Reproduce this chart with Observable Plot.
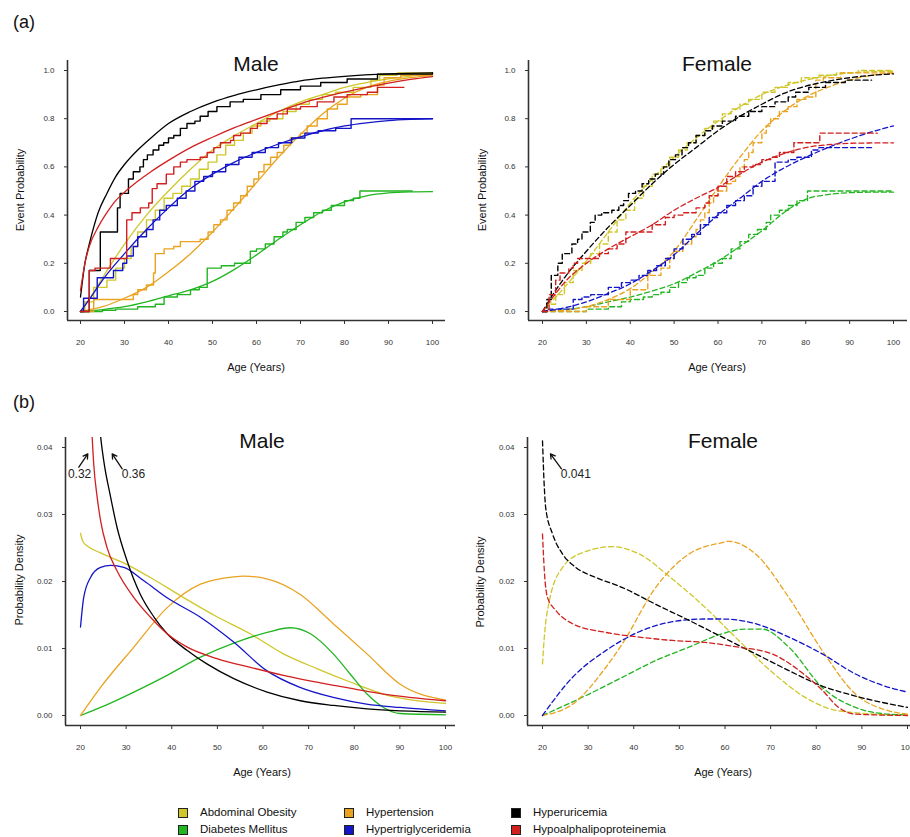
<!DOCTYPE html>
<html><head><meta charset="utf-8">
<script src="https://cdn.jsdelivr.net/npm/d3@7"></script>
<script src="https://cdn.jsdelivr.net/npm/@observablehq/plot@0.6"></script>
<style>
body{margin:0;background:#fff;}
#root{position:relative;width:910px;height:837px;overflow:hidden;font-family:"Liberation Sans",Arial,sans-serif;color:#111;}
.t{position:absolute;white-space:nowrap;transform:translate(-50%,-50%);line-height:1;}
.lg{position:absolute;font-size:11.5px;white-space:nowrap;line-height:1;transform:translateY(-50%);}
.sw{position:absolute;width:8px;height:8px;border:1.2px solid #222;transform:translate(-50%,-50%);}
</style></head><body><div id="root"></div>
<script>
// ---------- categories ----------
const seriesNames = ["Abdominal Obesity","Diabetes Mellitus","Hypertension","Hypertriglyceridemia","Hyperuricemia","Hypoalphalipoproteinemia"];
const seriesColors = ["#cfc72a","#22b522","#e9a321","#1414c8","#000000","#d21f1f"];
const ageTicks = [20,30,40,50,60,70,80,90,100];
const probTicks = [0,0.2,0.4,0.6,0.8,1.0];
const densTicks = [0,0.01,0.02,0.03,0.04];

// ---------- (a) Male fitted curves [age, probability] ----------
const maleFitAO  = [[20,0],[22,0.05],[25,0.14],[30,0.28],[35,0.4],[40,0.5],[45,0.59],[50,0.67],[55,0.73],[60,0.78],[65,0.83],[70,0.87],[75,0.9],[80,0.93],[85,0.95],[90,0.965],[95,0.977],[100,0.985]];
const maleFitDM  = [[20,0],[25,0.008],[30,0.02],[35,0.04],[40,0.065],[45,0.09],[50,0.125],[55,0.175],[60,0.235],[65,0.3],[70,0.36],[75,0.415],[80,0.455],[85,0.48],[90,0.492],[95,0.496],[100,0.497]];
const maleFitHT  = [[20,0],[25,0.02],[30,0.055],[35,0.1],[40,0.165],[45,0.24],[50,0.33],[55,0.43],[60,0.535],[65,0.64],[70,0.735],[75,0.82],[80,0.885],[85,0.93],[90,0.955],[95,0.97],[100,0.98]];
const maleFitHTG = [[20,0],[22,0.05],[25,0.13],[30,0.24],[35,0.34],[40,0.43],[45,0.51],[50,0.57],[55,0.62],[60,0.66],[65,0.695],[70,0.725],[75,0.75],[80,0.77],[85,0.783],[90,0.792],[95,0.797],[100,0.8]];
const maleFitHU  = [[20,0.06],[21,0.2],[22,0.28],[23,0.35],[24,0.41],[26,0.49],[28,0.56],[30,0.61],[33,0.67],[36,0.72],[40,0.78],[45,0.83],[50,0.868],[55,0.897],[60,0.92],[65,0.94],[70,0.957],[75,0.968],[80,0.976],[90,0.986],[100,0.99]];
const maleFitHA  = [[20,0.087],[21,0.2],[22,0.27],[24,0.35],[26,0.41],[28,0.46],[30,0.495],[33,0.54],[36,0.58],[40,0.627],[45,0.68],[50,0.723],[55,0.763],[60,0.797],[65,0.83],[70,0.862],[75,0.888],[80,0.91],[85,0.93],[90,0.948],[95,0.963],[100,0.975]];

// ---------- (a) Male observed (step) [age, probability] ----------
const maleObsAO  = [[20,0],[21,0.04],[23,0.1],[26,0.13],[28,0.18],[30,0.22],[31.5,0.27],[33,0.33],[35,0.38],[37,0.42],[39,0.47],[41,0.49],[43,0.52],[45,0.55],[47,0.59],[49,0.62],[51,0.65],[53,0.69],[55,0.71],[57,0.74],[59,0.77],[61,0.79],[63,0.8],[66,0.83],[69,0.86],[72,0.88],[75,0.9],[78,0.91],[82,0.93],[86,0.96],[88,0.98],[92,0.99],[100,0.99]];
const maleObsDM  = [[20,0],[25,0.005],[28,0.01],[33,0.02],[37,0.03],[39,0.06],[42,0.07],[45,0.09],[47,0.1],[48.8,0.18],[52,0.19],[55,0.2],[58.6,0.25],[60,0.26],[62,0.28],[64,0.31],[66,0.33],[67,0.34],[69,0.37],[71,0.39],[73,0.41],[75,0.42],[77,0.44],[80,0.46],[82,0.47],[83.5,0.5],[95.4,0.5]];
const maleObsHT  = [[20,0],[23,0.05],[32,0.07],[33,0.09],[35,0.11],[36.6,0.16],[37,0.24],[39,0.26],[41.2,0.27],[42.7,0.29],[47.2,0.3],[49,0.33],[50.3,0.36],[51.8,0.38],[53.3,0.42],[54.8,0.45],[56.4,0.48],[57.9,0.52],[59.4,0.55],[60.5,0.58],[61.7,0.61],[63.2,0.64],[64.7,0.66],[66.2,0.69],[67.7,0.72],[70,0.74],[71.5,0.77],[73.8,0.8],[76.1,0.84],[78.4,0.86],[80.6,0.89],[83.7,0.9],[87.5,0.94],[89,0.97],[92.8,0.98],[100,0.98]];
const maleObsHTG = [[20,0],[20.7,0.055],[23.8,0.14],[27.5,0.17],[29.6,0.2],[30.5,0.23],[32,0.27],[33,0.31],[35,0.34],[36.5,0.38],[38,0.42],[39.5,0.44],[42,0.47],[44,0.5],[46,0.54],[48,0.56],[50,0.58],[53,0.61],[56,0.64],[59,0.66],[62,0.68],[65,0.7],[68,0.72],[71,0.74],[74,0.75],[78,0.76],[81.5,0.8],[100,0.8]];
const maleObsHU  = [[20,0],[22,0.17],[24.5,0.33],[28.4,0.43],[29,0.49],[30.9,0.55],[32,0.58],[33.5,0.6],[34.3,0.63],[35.2,0.65],[36.5,0.67],[37.8,0.69],[38.9,0.7],[40,0.72],[41.2,0.73],[42.7,0.76],[44.2,0.78],[46,0.79],[47.2,0.81],[49,0.83],[51,0.85],[54,0.87],[57,0.88],[61,0.9],[65.5,0.92],[70,0.935],[74.6,0.95],[80.6,0.965],[87.5,0.985],[100,0.99]];
const maleObsHA  = [[20,0],[22,0.17],[23.3,0.18],[26.8,0.22],[30.5,0.38],[31.7,0.41],[33.6,0.43],[35.5,0.45],[36.3,0.51],[37.4,0.53],[39.5,0.57],[41.2,0.6],[42.7,0.62],[44.2,0.63],[47.2,0.64],[48.8,0.66],[50.3,0.68],[51.8,0.7],[54.1,0.71],[54.8,0.73],[56.4,0.74],[58.6,0.76],[60.2,0.78],[62.4,0.8],[64.7,0.82],[67,0.84],[70,0.85],[73.8,0.87],[77.6,0.89],[80.6,0.9],[85.2,0.91],[87.5,0.93],[93.5,0.93]];

// ---------- (a) Female fitted curves ----------
const femFitAO  = [[20,0],[22,0.04],[25,0.1],[30,0.21],[35,0.33],[40,0.45],[45,0.55],[50,0.64],[55,0.72],[60,0.79],[65,0.85],[70,0.9],[75,0.935],[80,0.96],[85,0.978],[90,0.99],[95,0.995],[100,0.997]];
const femFitDM  = [[20,0],[25,0.007],[30,0.02],[35,0.04],[40,0.06],[45,0.085],[50,0.115],[55,0.16],[60,0.21],[65,0.27],[70,0.335],[75,0.41],[80,0.465],[85,0.485],[90,0.493],[95,0.495],[100,0.495]];
const femFitHT  = [[20,0],[25,0.005],[30,0.02],[35,0.05],[40,0.095],[45,0.165],[50,0.25],[55,0.38],[60,0.515],[65,0.64],[70,0.75],[75,0.83],[80,0.89],[85,0.93],[90,0.96],[95,0.98],[100,0.99]];
const femFitHTG = [[20,0],[25,0.015],[30,0.04],[35,0.075],[40,0.115],[45,0.17],[50,0.235],[55,0.32],[60,0.4],[65,0.47],[70,0.54],[75,0.595],[80,0.64],[85,0.68],[90,0.715],[95,0.745],[100,0.77]];
const femFitHU  = [[20,0],[22,0.06],[25,0.14],[30,0.25],[35,0.35],[40,0.44],[45,0.53],[50,0.61],[55,0.68],[60,0.75],[65,0.81],[70,0.86],[75,0.905],[80,0.935],[85,0.955],[90,0.97],[95,0.98],[100,0.986]];
const femFitHA  = [[20,0],[22,0.05],[25,0.12],[30,0.2],[35,0.26],[40,0.31],[45,0.36],[50,0.42],[55,0.47],[60,0.515],[65,0.57],[70,0.62],[75,0.655],[80,0.68],[85,0.692],[90,0.698],[100,0.7]];

// ---------- (a) Female observed (step) ----------
const femObsAO  = [[20,0],[21,0.03],[23,0.07],[25,0.12],[27,0.17],[29,0.2],[31,0.24],[33,0.28],[35,0.33],[37,0.38],[39,0.42],[41,0.47],[43,0.52],[45,0.57],[47,0.6],[49,0.64],[51,0.67],[53,0.7],[55,0.73],[57,0.76],[59,0.79],[61,0.82],[63,0.84],[65,0.86],[67,0.88],[70,0.91],[73,0.93],[76,0.95],[79,0.97],[83,0.98],[87,0.99],[92,1.0],[100,1.0]];
const femObsDM  = [[20,0],[30,0.01],[35,0.02],[38,0.04],[40,0.05],[43,0.06],[45,0.07],[47,0.08],[49,0.1],[51,0.12],[53,0.14],[55,0.15],[57,0.18],[59,0.2],[61,0.22],[63,0.26],[65,0.29],[67,0.32],[69,0.34],[71,0.37],[72,0.4],[74,0.42],[76,0.44],[78,0.46],[80.4,0.5],[100,0.5]];
const femObsHT  = [[20,0],[30,0.02],[35,0.05],[40,0.09],[44,0.15],[47,0.18],[49,0.22],[50,0.25],[52,0.28],[54,0.31],[55,0.34],[56,0.38],[57,0.41],[58,0.45],[59,0.48],[60,0.5],[62,0.53],[63,0.54],[64,0.56],[65,0.6],[66,0.63],[67,0.66],[68,0.7],[70,0.74],[71,0.77],[72,0.8],[74,0.83],[76,0.85],[78,0.88],[80,0.89],[82.3,0.96],[84,0.97],[88,0.99],[100,0.995]];
const femObsHTG = [[20,0],[21,0.01],[25,0.01],[27,0.05],[29,0.06],[31,0.07],[35,0.1],[38,0.12],[40,0.13],[42,0.15],[44,0.17],[46,0.19],[48,0.22],[50,0.26],[52,0.3],[54,0.32],[56,0.36],[58,0.39],[60,0.41],[62,0.44],[64,0.46],[66,0.48],[68,0.52],[70,0.54],[73,0.62],[76,0.63],[78,0.64],[81.3,0.67],[83,0.68],[95,0.68]];
const femObsHU  = [[20,0],[21,0.05],[22,0.15],[23.5,0.2],[24.5,0.24],[26.7,0.28],[28,0.3],[29,0.33],[30.9,0.37],[32,0.4],[33.5,0.41],[35.8,0.42],[37.4,0.44],[38.5,0.46],[39.6,0.49],[41.2,0.5],[42.7,0.53],[44.2,0.55],[45.7,0.57],[47.6,0.6],[48.8,0.63],[50.3,0.65],[51.8,0.68],[53.3,0.7],[55,0.73],[57,0.75],[58.7,0.77],[61,0.79],[64,0.81],[67,0.83],[70,0.85],[73,0.87],[76,0.89],[77.7,0.91],[80.7,0.93],[84.5,0.95],[89,0.96],[95,0.96]];
const femObsHA  = [[20,0],[21.5,0.07],[23,0.13],[24,0.16],[26,0.18],[27,0.2],[28,0.22],[31,0.22],[33,0.24],[35,0.26],[37,0.28],[39,0.33],[44,0.33],[45,0.36],[48,0.39],[50,0.4],[52,0.41],[55,0.43],[57,0.45],[58,0.48],[60,0.52],[62,0.56],[64,0.58],[66,0.6],[68,0.61],[70,0.63],[72,0.64],[74,0.66],[77.3,0.7],[83.2,0.74],[96.3,0.74]];

// ---------- (b) Male probability density [age, density] ----------
const maleDensAO  = [[20,0.0272],[20.5,0.026],[21.5,0.0253],[24.3,0.0243],[30,0.0226],[35.3,0.0206],[42.6,0.0176],[50,0.0147],[57.2,0.0122],[64.5,0.0092],[71.8,0.007],[79.1,0.005],[86.4,0.0032],[100,0.0018]];
const maleDensDM  = [[20,0],[24.4,0.0012],[31.7,0.0035],[39,0.006],[46.3,0.0087],[53.6,0.0108],[60.9,0.0124],[66,0.0131],[70.4,0.0122],[75.4,0.0092],[79.1,0.0062],[82.8,0.0032],[86.4,0.0012],[90,0.0003],[100,0.0001]];
const maleDensHT  = [[20,0],[24.4,0.0042],[31.7,0.0102],[39,0.0161],[46.3,0.0196],[53.6,0.0207],[55.8,0.0208],[60.8,0.0204],[68.1,0.0181],[75.4,0.0137],[82.8,0.0092],[90,0.0047],[100,0.0023]];
const maleDensHTG = [[20,0.0132],[20.7,0.0176],[22.2,0.0206],[24.4,0.0221],[26.6,0.0224],[29.5,0.0221],[33.9,0.0201],[38.9,0.0176],[46.2,0.0147],[53.5,0.011],[60.8,0.0067],[68.1,0.0042],[75.4,0.0027],[82.7,0.0017],[90,0.0012],[100,0.0007]];
const maleDensHU  = [[20,0.36],[21,0.15],[22,0.085],[23.5,0.05],[24.4,0.0417],[25.1,0.038],[26.6,0.0326],[28,0.0281],[30.2,0.0231],[33.1,0.0181],[36.1,0.0147],[39,0.0122],[43.4,0.0097],[47.7,0.0077],[53.6,0.0055],[60.9,0.0035],[68.2,0.0022],[75.5,0.0015],[82.8,0.001],[100,0.0005]];
const maleDensHA  = [[20,0.32],[21,0.1],[22,0.052],[22.55,0.0417],[22.9,0.0375],[23.65,0.0326],[24.4,0.0291],[25.8,0.0251],[28,0.0216],[31.7,0.0176],[35.3,0.0147],[39,0.0122],[43.4,0.0102],[49.9,0.0085],[57.2,0.0072],[64.5,0.006],[75.5,0.0045],[86.4,0.0032],[100,0.0022]];

// ---------- (b) Female probability density ----------
const femDensAO  = [[20,0.0077],[20.4,0.0117],[21.5,0.0171],[24.4,0.0221],[28.8,0.0243],[35.3,0.0252],[41.2,0.0241],[48.4,0.0204],[55.7,0.0161],[63,0.0112],[70.3,0.0065],[77.6,0.0027],[84.9,0.0007],[100,0]];
const femDensDM  = [[20,0],[30.2,0.0032],[37.5,0.0057],[44.8,0.0082],[52.1,0.0102],[59.4,0.0122],[64.5,0.0129],[68.1,0.0129],[74,0.0102],[81.3,0.0042],[88.6,0.0012],[95.9,0.0002],[100,0.0001]];
const femDensHT  = [[20,0],[26.6,0.0017],[33.9,0.0072],[37.5,0.0107],[44.8,0.0191],[52.1,0.0241],[59.4,0.0258],[60.8,0.026],[66.7,0.0241],[74,0.0176],[81.3,0.0097],[88.6,0.0032],[95.9,0.0007],[100,0.0002]];
const femDensHTG = [[20,0],[26.6,0.0057],[33.9,0.0097],[41.2,0.0125],[48.5,0.014],[55.7,0.0144],[59.4,0.0144],[66.7,0.0137],[74,0.0117],[81.3,0.0092],[88.6,0.0062],[95.9,0.0042],[100,0.0035]];
const femDensHU  = [[20,0.041],[20.4,0.034],[20.7,0.031],[22.2,0.0271],[24.4,0.0241],[27.3,0.0221],[31.7,0.0206],[37.5,0.0191],[44.8,0.0166],[52.1,0.0142],[59.4,0.0117],[66.7,0.0092],[74,0.0067],[81.3,0.0044],[88.6,0.0029],[100,0.0012]];
const femDensHA  = [[20,0.0271],[20.4,0.0216],[21.1,0.0176],[22.9,0.0157],[26.6,0.0137],[33.9,0.0124],[41.2,0.0117],[48.5,0.0112],[55.7,0.0109],[63,0.0102],[70.3,0.0092],[77.6,0.006],[81.3,0.0038],[84.9,0.0012],[88.6,0.0002],[100,0]];

// ---------- annotations (b): peak densities off the chart ----------
const maleAnnotations = [
  {label:"0.32", x1:19.63, y1:0.03706, x2:21.6, y2:0.03906, tx:19.8, ty:0.03597},
  {label:"0.36", x1:29.14, y1:0.03682, x2:26.95, y2:0.03906, tx:31.62, ty:0.03597}
];
const femAnnotations = [
  {label:"0.041", x1:24.16, y1:0.03682, x2:21.75, y2:0.03906, tx:27.3, ty:0.03597}
];

// ---------- drawing ----------
const root = document.getElementById("root");
const FONT = '"Liberation Sans", Arial, sans-serif';

function addText(str, x, y, size, rot) {
  const d = document.createElement("div");
  d.className = "t";
  d.textContent = str;
  d.style.left = x + "px";
  d.style.top = y + "px";
  d.style.fontSize = size + "px";
  if (rot) d.style.transform = "translate(-50%,-50%) rotate(" + rot + "deg)";
  root.appendChild(d);
}

function panel(cfg) {
  const marks = [];
  cfg.lines.forEach((set, i) => {
    const color = seriesColors[i];
    if (set.obs) marks.push(Plot.line(set.obs, {x: d => d[0], y: d => d[1], stroke: color, strokeWidth: 1.4, curve: "step-after", strokeDasharray: cfg.dash || null, clip: true}));
    if (set.fit) marks.push(Plot.line(set.fit, {x: d => d[0], y: d => d[1], stroke: color, strokeWidth: 1.3, curve: "monotone-x", strokeDasharray: cfg.dash || null, clip: true}));
  });
  marks.push(Plot.ruleX([cfg.xDom[0]], {stroke: "#333", strokeWidth: 1.6}));
  marks.push(Plot.ruleY([cfg.yDom[0]], {stroke: "#333", strokeWidth: 1.6}));
  if (cfg.annotations) {
    marks.push(Plot.arrow(cfg.annotations, {x1: "x1", y1: "y1", x2: "x2", y2: "y2", stroke: "#111", strokeWidth: 1.3, headLength: 6}));
    marks.push(Plot.text(cfg.annotations, {x: "tx", y: "ty", text: "label", fontSize: 12, fill: "#222"}));
  }
  const svg = Plot.plot({
    width: cfg.width, height: cfg.height,
    marginLeft: cfg.mL, marginRight: cfg.mR, marginTop: cfg.mT, marginBottom: cfg.mB,
    x: {domain: cfg.xDom, ticks: ageTicks, tickSize: 4, tickPadding: 15, label: null},
    y: {domain: cfg.yDom, ticks: cfg.yTicks, tickFormat: cfg.yFmt, tickSize: 3, tickPadding: 10, label: null},
    style: {fontFamily: FONT, fontSize: "8px", color: "#333", background: "transparent", overflow: "visible"},
    marks
  });
  svg.style.position = "absolute";
  svg.style.left = cfg.left + "px";
  svg.style.top = cfg.top + "px";
  root.appendChild(svg);
}

const probDom = [-9/241, 1 + 10/241];
const densDom = [-10/6700, 0.04 + 10/6700];

panel({left: 0, top: 40, width: 455, height: 340, mL: 67, mR: 10, mT: 20, mB: 60,
  xDom: [20 - 13/4.4, 100 + 13/4.4], yDom: probDom, yTicks: probTicks, yFmt: d3.format(".1f"),
  lines: [
    {fit: maleFitAO, obs: maleObsAO}, {fit: maleFitDM, obs: maleObsDM}, {fit: maleFitHT, obs: maleObsHT},
    {fit: maleFitHTG, obs: maleObsHTG}, {fit: maleFitHU, obs: maleObsHU}, {fit: maleFitHA, obs: maleObsHA}
  ]});

panel({left: 455, top: 40, width: 455, height: 340, mL: 73, mR: 3, mT: 20, mB: 60,
  xDom: [20 - 14/4.3875, 100 + 14/4.3875], yDom: probDom, yTicks: probTicks, yFmt: d3.format(".1f"), dash: "5,3",
  lines: [
    {fit: femFitAO, obs: femObsAO}, {fit: femFitDM, obs: femObsDM}, {fit: femFitHT, obs: femObsHT},
    {fit: femFitHTG, obs: femObsHTG}, {fit: femFitHU, obs: femObsHU}, {fit: femFitHA, obs: femObsHA}
  ]});

panel({left: 0, top: 400, width: 455, height: 385, mL: 65, mR: 0, mT: 37, mB: 60,
  xDom: [20 - 15/4.5625, 100 + 10/4.5625], yDom: densDom, yTicks: densTicks, yFmt: d3.format(".2f"),
  annotations: maleAnnotations,
  lines: [
    {fit: maleDensAO}, {fit: maleDensDM}, {fit: maleDensHT}, {fit: maleDensHTG}, {fit: maleDensHU}, {fit: maleDensHA}
  ]});

panel({left: 455, top: 400, width: 455, height: 385, mL: 72, mR: 0, mT: 37, mB: 60,
  xDom: [20 - 15/4.5625, 100 + 3/4.5625], yDom: densDom, yTicks: densTicks, yFmt: d3.format(".2f"), dash: "5,3",
  annotations: femAnnotations,
  lines: [
    {fit: femDensAO}, {fit: femDensDM}, {fit: femDensHT}, {fit: femDensHTG}, {fit: femDensHU}, {fit: femDensHA}
  ]});

// panel letters, titles and axis titles
addText("(a)", 24, 22, 18);
addText("(b)", 24, 402, 18);
addText("Male", 256, 63, 21);
addText("Female", 717, 63, 21);
addText("Male", 262, 440, 21);
addText("Female", 723, 440, 21);
addText("Age (Years)", 256, 367, 11);
addText("Age (Years)", 717, 367, 11);
addText("Age (Years)", 262, 772, 11);
addText("Age (Years)", 723, 772, 11);
addText("Event Probability", 20, 190, 11, -90);
addText("Event Probability", 482, 190, 11, -90);
addText("Probability Density", 19, 580, 11, -90);
addText("Probability Density", 480, 582, 11, -90);

// legend (3 columns x 2 rows)
const legendCols = [183, 349, 516];
const legendRows = [813, 830];
seriesNames.forEach((name, i) => {
  const col = Math.floor(i / 2), row = i % 2;
  const sw = document.createElement("div");
  sw.className = "sw";
  sw.style.left = legendCols[col] + "px";
  sw.style.top = legendRows[row] + "px";
  sw.style.background = seriesColors[i];
  root.appendChild(sw);
  const t = document.createElement("div");
  t.className = "lg";
  t.textContent = name;
  t.style.left = (legendCols[col] + 17) + "px";
  t.style.top = legendRows[row] + "px";
  root.appendChild(t);
});
</script>
</body></html>
